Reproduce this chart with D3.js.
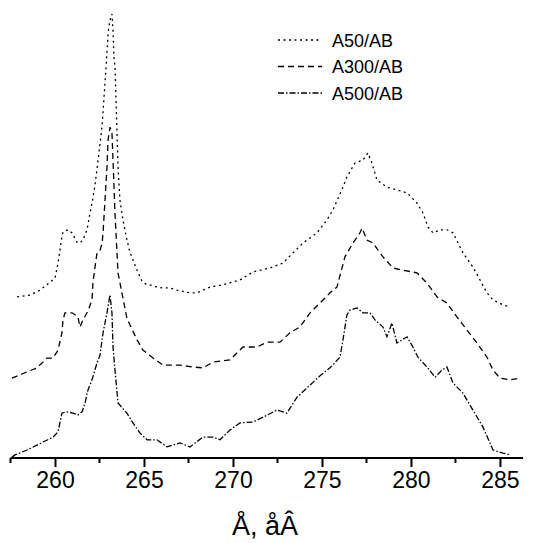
<!DOCTYPE html>
<html>
<head>
<meta charset="utf-8">
<script src="https://cdn.jsdelivr.net/npm/d3@7"></script>
<style>
body { margin: 0; background: #fff; }
</style>
</head>
<body>
<script>
let width = 534;
let height = 543;

// energy (eV), intensity (a.u.)
let a50 = [
[257.87,3.63],[258.60,3.67],[259.16,3.78],[259.72,3.96],[260.00,4.05],[260.17,4.39],
[260.39,4.98],[260.45,5.09],[260.73,5.14],[260.96,5.07],[261.24,4.86],[261.40,4.84],
[261.57,4.91],[261.80,5.14],[261.97,5.52],[262.08,5.74],[262.25,6.15],[262.42,6.71],
[262.64,7.45],[262.81,8.45],[262.92,9.12],[262.98,9.57],[263.09,9.86],[263.20,10.0],
[263.26,9.64],[263.31,9.03],[263.37,8.81],[263.43,8.06],[263.48,7.39],[263.54,6.55],
[263.65,5.81],[263.82,5.36],[264.04,4.91],[264.21,4.64],[264.38,4.46],[264.61,4.23],
[264.89,3.98],[265.17,3.90],[265.34,3.90],[265.73,3.85],[266.07,3.83],[266.46,3.83],
[266.85,3.78],[267.58,3.72],[267.98,3.72],[268.31,3.78],[268.71,3.85],[269.44,3.90],
[270.39,4.01],[271.12,4.19],[272.08,4.28],[272.81,4.39],[273.37,4.62],[273.93,4.84],
[274.72,5.07],[275.28,5.36],[275.62,5.59],[276.18,6.10],[276.40,6.33],[276.85,6.64],
[277.30,6.71],[277.58,6.87],[277.81,6.64],[278.09,6.26],[278.65,6.10],[279.21,6.04],
[279.78,5.97],[280.34,5.74],[280.67,5.52],[280.96,5.20],[281.24,5.07],[281.63,5.14],
[282.02,5.14],[282.36,5.07],[282.92,4.62],[283.48,4.30],[283.88,4.01],[284.27,3.72],
[284.61,3.56],[285.17,3.45],[285.56,3.40]
];

let a300 = [
[257.58,1.80],[258.43,1.94],[258.99,2.03],[259.55,2.25],[259.89,2.25],[260.17,2.43],
[260.39,2.82],[260.45,3.11],[260.56,3.27],[260.96,3.27],[261.29,3.18],[261.40,2.95],
[261.57,3.11],[261.85,3.31],[262.08,3.56],[262.13,3.94],[262.25,4.30],[262.36,4.62],
[262.53,4.68],[262.64,4.82],[262.70,5.07],[262.81,5.81],[262.92,6.55],[262.98,7.16],
[263.09,7.45],[263.20,7.32],[263.26,6.71],[263.37,5.52],[263.54,4.17],[263.76,3.72],
[264.04,3.15],[264.21,3.00],[264.61,2.66],[264.94,2.43],[265.51,2.25],[266.07,2.09],
[267.02,2.09],[267.75,2.05],[268.31,2.03],[268.88,2.16],[269.83,2.21],[270.56,2.50],
[271.35,2.50],[271.91,2.61],[272.64,2.61],[273.20,2.82],[273.76,2.95],[274.33,3.27],
[274.89,3.49],[275.45,3.72],[275.84,3.85],[276.29,4.53],[276.74,4.84],[277.13,5.07],
[277.25,5.18],[277.53,4.91],[277.87,4.84],[278.43,4.53],[278.99,4.28],[279.55,4.23],
[280.34,4.17],[280.90,3.94],[281.46,3.63],[282.02,3.49],[282.58,3.18],[283.15,2.88],
[283.71,2.59],[284.27,2.27],[284.61,1.98],[285.00,1.80],[285.56,1.76],[286.12,1.80]
];

let a500 = [
[257.58,0.02],[257.75,0.07],[258.43,0.18],[258.99,0.29],[259.33,0.36],[259.89,0.47],
[260.17,0.59],[260.39,1.01],[260.67,1.04],[261.01,1.01],[261.29,0.97],[261.52,1.04],
[261.69,1.24],[261.85,1.53],[262.08,1.76],[262.36,2.14],[262.53,2.32],[262.70,2.82],
[262.92,3.27],[263.09,3.67],[263.20,3.27],[263.26,2.50],[263.37,1.98],[263.54,1.24],
[264.04,1.01],[264.38,0.79],[264.78,0.56],[265.17,0.41],[265.73,0.41],[266.29,0.25],
[267.02,0.34],[267.58,0.25],[268.31,0.47],[268.88,0.47],[269.27,0.41],[269.83,0.63],
[270.39,0.79],[271.12,0.81],[271.69,0.92],[272.47,1.08],[273.03,1.01],[273.60,1.37],
[274.16,1.58],[274.89,1.85],[275.45,2.03],[276.01,2.27],[276.18,2.66],[276.40,3.22],
[276.57,3.33],[276.97,3.38],[277.30,3.27],[277.70,3.27],[277.98,3.11],[278.43,2.95],
[278.65,2.73],[278.93,3.04],[279.21,2.59],[279.78,2.73],[280.11,2.50],[280.39,2.27],
[280.90,2.05],[281.35,1.82],[281.74,1.98],[282.02,2.05],[282.36,1.69],[282.92,1.46],
[283.48,1.08],[284.04,0.70],[284.61,0.18],[285.17,0.11],[285.56,0.07]
];

let seriesNames = ["A50/AB", "A300/AB", "A500/AB"];
let seriesData = [a50, a300, a500];
let dashes = ["2,3.5", "6,4", "6,2,1.5,2"];
let majorTicks = [260, 265, 270, 275, 280, 285];
let minorTicks = [257.5, 262.5, 267.5, 272.5, 277.5, 282.5];

let svg = d3.select("body").append("svg").attr("width", width).attr("height", height);

let x = d3.scaleLinear().domain([257.5, 286.3]).range([10.5, 523.1]);
let y = d3.scaleLinear().domain([0, 10]).range([458, 14]);

let line = d3.line()
  .x(d => x(d[0]))
  .y(d => y(d[1]));

svg.selectAll(".series")
  .data(seriesData)
  .enter()
  .append("path")
  .attr("class", "series")
  .attr("d", d => line(d))
  .attr("fill", "none")
  .attr("stroke", "#000")
  .attr("stroke-width", 1.3)
  .attr("stroke-dasharray", (d, i) => dashes[i]);

// bottom axis
let axis = svg.append("g").attr("transform", "translate(0,458)");
axis.call(d3.axisBottom(x).tickValues(majorTicks).tickSize(9).tickPadding(5).tickFormat(d3.format("d")));
axis.select(".domain").attr("stroke-width", 2).attr("d", "M" + x(257.5) + ",0H" + x(286.3));
axis.selectAll(".tick line").attr("stroke-width", 2);
axis.selectAll(".tick text")
  .attr("font-family", "Liberation Sans, Arial, sans-serif")
  .attr("font-size", 23)
  .attr("fill", "#000");

axis.selectAll(".minor")
  .data(minorTicks)
  .enter()
  .append("line")
  .attr("class", "minor")
  .attr("x1", d => x(d))
  .attr("x2", d => x(d))
  .attr("y1", 0)
  .attr("y2", 5)
  .attr("stroke", "#000")
  .attr("stroke-width", 2);

svg.append("text")
  .attr("x", 265)
  .attr("y", 535)
  .attr("text-anchor", "middle")
  .attr("font-family", "Liberation Sans, Arial, sans-serif")
  .attr("font-size", 27)
  .text("Å, åÂ");

// legend
let legend = svg.selectAll(".legend")
  .data(seriesNames)
  .enter()
  .append("g")
  .attr("class", "legend")
  .attr("transform", (d, i) => "translate(278," + (40 + i * 26.5) + ")");

legend.append("line")
  .attr("x1", 0)
  .attr("x2", 44)
  .attr("stroke", "#000")
  .attr("stroke-width", 1.3)
  .attr("stroke-dasharray", (d, i) => dashes[i]);

legend.append("text")
  .attr("x", 54)
  .attr("y", 6.5)
  .attr("font-family", "Liberation Sans, Arial, sans-serif")
  .attr("font-size", 18)
  .text(d => d);
</script>
</body>
</html>
